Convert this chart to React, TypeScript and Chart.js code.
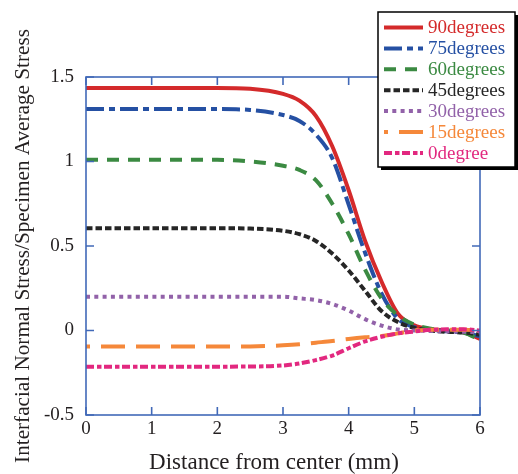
import React, { useEffect, useRef } from "react";
import { Chart, registerables } from "chart.js";

Chart.register(...registerables);

// ---- data ----
const distances = [0, 1, 2, 2.5, 3, 3.25, 3.5, 3.75, 4, 4.25, 4.5, 4.75, 5, 5.25, 5.5, 5.75, 6];
const deg90 = [1.435, 1.435, 1.435, 1.43, 1.4, 1.36, 1.27, 1.09, 0.83, 0.53, 0.29, 0.1, 0.03, 0.008, 0.0, -0.01, -0.05];
const deg75 = [1.31, 1.31, 1.31, 1.305, 1.275, 1.24, 1.16, 1.02, 0.745, 0.46, 0.22, 0.07, 0.02, 0.005, -0.005, -0.012, -0.035];
const deg60 = [1.01, 1.01, 1.01, 1.0, 0.975, 0.95, 0.89, 0.75, 0.57, 0.36, 0.19, 0.09, 0.035, 0.01, 0.0, -0.012, -0.055];
const deg45 = [0.605, 0.605, 0.605, 0.603, 0.59, 0.57, 0.53, 0.455, 0.355, 0.235, 0.115, 0.05, 0.015, 0.0, -0.008, -0.012, -0.025];
const deg30 = [0.2, 0.2, 0.2, 0.2, 0.2, 0.19, 0.18, 0.157, 0.118, 0.067, 0.029, 0.006, 0.0, -0.003, -0.005, -0.007, -0.01];
const deg15 = [-0.095, -0.095, -0.095, -0.094, -0.088, -0.082, -0.072, -0.062, -0.05, -0.04, -0.032, -0.017, 0.0, 0.004, 0.005, 0.005, 0.0];
const deg0 = [-0.214, -0.214, -0.214, -0.213, -0.207, -0.195, -0.175, -0.148, -0.105, -0.065, -0.037, -0.017, -0.006, 0.004, 0.007, 0.007, 0.0];

const seriesLabels = ["90degrees", "75degrees", "60degrees", "45degrees", "30degrees", "15degrees", "0degree"];
const seriesValues = [deg90, deg75, deg60, deg45, deg30, deg15, deg0];

const xTitle = "Distance from center (mm)";
const yTitle = "Interfacial Normal Stress/Specimen Average Stress";

// ---- styles ----
const FONT = "'Liberation Serif', 'Times New Roman', serif";
const TEXT = "#231f20";
const AXIS = "#4169b8";
const colors = ["#d42a2b", "#2550a3", "#3b8a42", "#262626", "#9262a9", "#f5883a", "#e2287f"];
const dashes: number[][] = [[], [18, 5, 6, 5], [12, 9], [6.5, 3], [4, 4.3], [24, 11], [8, 3, 4.5, 2.5]];
const dashOffsets = [0, 0, 0, 0, 0, 20, 0];

const framePlugin = {
  id: "frameAndLegend",
  afterDatasetsDraw(chart: any) {
    const { ctx, chartArea: a, scales } = chart;
    ctx.save();
    ctx.strokeStyle = AXIS;
    ctx.lineWidth = 1.6;
    ctx.setLineDash([]);
    ctx.strokeRect(a.left, a.top, a.right - a.left, a.bottom - a.top);
    const tl = 8;
    ctx.beginPath();
    scales.x.ticks.forEach((t: any) => {
      const px = scales.x.getPixelForValue(t.value);
      ctx.moveTo(px, a.bottom);
      ctx.lineTo(px, a.bottom - tl);
      ctx.moveTo(px, a.top);
      ctx.lineTo(px, a.top + tl);
    });
    scales.y.ticks.forEach((t: any) => {
      const py = scales.y.getPixelForValue(t.value);
      ctx.moveTo(a.left, py);
      ctx.lineTo(a.left + tl, py);
      ctx.moveTo(a.right, py);
      ctx.lineTo(a.right - tl, py);
    });
    ctx.stroke();
    ctx.restore();
  },
  afterDraw(chart: any) {
    const { ctx, chartArea: a } = chart;
    ctx.save();
    // x axis title
    ctx.fillStyle = TEXT;
    ctx.font = `23px ${FONT}`;
    ctx.textAlign = "center";
    ctx.textBaseline = "alphabetic";
    ctx.fillText(xTitle, a.left + (a.right - a.left) * 0.477, 469);

    // legend box
    const bx = 378, by = 12, bw = 137, bh = 155;
    ctx.fillStyle = "#000";
    ctx.fillRect(bx + 3, by + 3, bw, bh);
    ctx.fillStyle = "#fff";
    ctx.fillRect(bx, by, bw, bh);
    ctx.strokeStyle = "#000";
    ctx.lineWidth = 1.5;
    ctx.strokeRect(bx, by, bw, bh);

    ctx.font = `19px ${FONT}`;
    ctx.textAlign = "left";
    ctx.textBaseline = "middle";
    seriesLabels.forEach((lab, i) => {
      const y = 27.5 + i * 20.9;
      ctx.strokeStyle = colors[i];
      ctx.lineWidth = 4;
      ctx.lineCap = "butt";
      ctx.setLineDash(dashes[i]);
      ctx.lineDashOffset = dashOffsets[i];
      ctx.beginPath();
      ctx.moveTo(384, y);
      ctx.lineTo(423, y);
      ctx.stroke();
      ctx.setLineDash([]);
      ctx.fillStyle = colors[i];
      ctx.fillText(lab, 428, y + 1);
    });
    ctx.restore();
  },
};

export default function App() {
  const ref = useRef<HTMLCanvasElement>(null);

  useEffect(() => {
    const canvas = ref.current;
    if (!canvas) return;
    const datasets = seriesLabels.map((lab, i) => ({
      label: lab,
      data: distances.map((d, k) => ({ x: d, y: seriesValues[i][k] })),
      borderColor: colors[i],
      backgroundColor: colors[i],
      borderWidth: 4,
      borderDash: dashes[i],
      borderDashOffset: dashOffsets[i],
      borderCapStyle: "butt" as const,
      pointRadius: 0,
      fill: false,
      cubicInterpolationMode: "monotone" as const,
      order: seriesLabels.length - 1 - i,
    }));

    const chart = new Chart(canvas, {
      type: "line",
      data: { datasets },
      plugins: [framePlugin],
      options: {
        animation: false,
        responsive: false,
        devicePixelRatio: 1,
        layout: { padding: { left: 0, right: 38, top: 77, bottom: 0 } },
        plugins: { legend: { display: false }, tooltip: { enabled: false } },
        scales: {
          x: {
            type: "linear",
            min: 0,
            max: 6,
            ticks: {
              stepSize: 1,
              font: { family: FONT, size: 19 },
              color: TEXT,
              padding: 3,
              maxRotation: 0,
              callback: (v: any) => String(v),
            },
            grid: { display: false, drawTicks: false },
            border: { display: false },
            title: { display: false },
            afterFit(scale: any) {
              scale.height = 59;
            },
          },
          y: {
            type: "linear",
            min: -0.5,
            max: 1.5,
            ticks: {
              stepSize: 0.5,
              font: { family: FONT, size: 19 },
              color: TEXT,
              padding: 12,
              callback: (v: any) => String(v),
            },
            grid: { display: false, drawTicks: false },
            border: { display: false },
            title: {
              display: true,
              text: yTitle,
              font: { family: FONT, size: 21.2 },
              color: TEXT,
              padding: { top: 11, bottom: 0 },
            },
            afterFit(scale: any) {
              scale.width = 86;
            },
          },
        },
      },
    });
    return () => chart.destroy();
  }, []);

  return (
    <div style={{ position: "absolute", left: 0, top: 0, width: 518, height: 474, background: "#fff" }}>
      <canvas ref={ref} width={518} height={474} style={{ display: "block", width: 518, height: 474 }} />
    </div>
  );
}
